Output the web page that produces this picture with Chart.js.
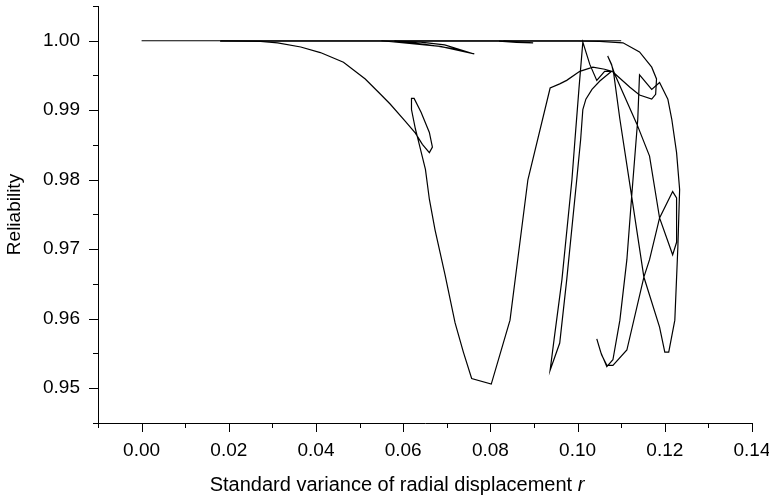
<!DOCTYPE html>
<html>
<head>
<meta charset="utf-8">
<script src="https://cdn.jsdelivr.net/npm/chart.js@4/dist/chart.umd.min.js"></script>
<style>
  html, body { margin: 0; padding: 0; background: #fff; }
  #wrap { width: 769px; height: 497px; }
</style>
</head>
<body>
<div id="wrap"><canvas id="chart" width="769" height="497"></canvas></div>
<script>
// axis ticks (major get labels, minor are only marks)
const xMajorTicks = [0.00, 0.02, 0.04, 0.06, 0.08, 0.10, 0.12, 0.14];
const xMinorTicks = [-0.01, 0.01, 0.03, 0.05, 0.07, 0.09, 0.11, 0.13];
const yMajorTicks = [0.95, 0.96, 0.97, 0.98, 0.99, 1.00];
const yMinorTicks = [0.945, 0.955, 0.965, 0.975, 0.985, 0.995, 1.005];

// flat reliability line
const baseX = [0.000, 0.110];
const baseY = [1.000, 1.000];

// upper arc near r = 0.11
const arcX = [0.018, 0.100, 0.1051, 0.1104, 0.1142, 0.1170, 0.1181, 0.1179, 0.1170, 0.1142, 0.1120, 0.1081];
const arcY = [0.99994, 0.99994, 0.9999, 0.9997, 0.9984, 0.9962, 0.9945, 0.9923, 0.9916, 0.9922, 0.9933, 0.9955];

// small dips just under 1.00
const featherX = [0.055, 0.062, 0.0685, 0.0763, 0.071, 0.065, 0.058, 0.064, 0.0695, 0.0763];
const featherY = [1.0, 0.9996, 0.9992, 0.9981, 0.9989, 0.9995, 0.99995, 0.9998, 0.9994, 0.9981];
const dipX = [0.082, 0.086, 0.0898, 0.086, 0.083];
const dipY = [0.99995, 0.99975, 0.9997, 0.99985, 0.99997];

// main descent, first two valleys and the spike at r = 0.101
const mainX = [0.0181, 0.0273, 0.0312, 0.0365, 0.0410, 0.0463, 0.0513, 0.0548, 0.0570, 0.0605,
  0.0628, 0.0644, 0.0660, 0.0667, 0.0660, 0.0641, 0.0625, 0.0619, 0.0619, 0.0628,
  0.0634, 0.0651, 0.0660, 0.0673, 0.0696, 0.0719, 0.0738, 0.0757, 0.0802, 0.0845,
  0.0886, 0.0937, 0.0959, 0.0975, 0.1005, 0.1035, 0.1062, 0.1078, 0.1051, 0.1033,
  0.1019, 0.1012, 0.1007, 0.0998, 0.0975, 0.0959, 0.0937, 0.0946, 0.0964, 0.0987,
  0.0994, 0.1003, 0.1012, 0.1028, 0.1044, 0.1062, 0.1081];
const mainY = [1.0000, 0.9999, 0.9997, 0.9991, 0.9983, 0.9969, 0.9945, 0.9923, 0.9909, 0.9884,
  0.9867, 0.9851, 0.9839, 0.9847, 0.9868, 0.9897, 0.9917, 0.9917, 0.9901, 0.9873,
  0.9858, 0.9815, 0.9772, 0.9728, 0.9663, 0.9594, 0.9552, 0.9514, 0.9506, 0.9598,
  0.9800, 0.9932, 0.9938, 0.9943, 0.9956, 0.9962, 0.9959, 0.9956, 0.9942, 0.9930,
  0.9916, 0.9901, 0.9858, 0.9800, 0.9656, 0.9565, 0.9526, 0.9570, 0.9656, 0.9800,
  0.9858, 0.9930, 0.9998, 0.9966, 0.9943, 0.9956, 0.9956];

// right part: valleys at r = 0.107 and 0.12 and the small loop
const loopX = [0.1069, 0.1078, 0.1083, 0.1097, 0.1124, 0.1152, 0.1188, 0.1200, 0.1209, 0.1223,
  0.1230, 0.1234, 0.1227, 0.1216, 0.1207, 0.1188, 0.1170, 0.1142, 0.1138, 0.1124,
  0.1113, 0.1097, 0.1081, 0.1067, 0.1053, 0.1044, 0.1055, 0.1067, 0.1081, 0.1113,
  0.1152, 0.1165, 0.1188, 0.1218, 0.1227, 0.1227, 0.1218, 0.1188, 0.1165, 0.1136,
  0.1085, 0.1078, 0.1069];
const loopY = [0.9978, 0.9966, 0.9952, 0.9887, 0.9776, 0.9660, 0.9588, 0.9552, 0.9552, 0.9598,
  0.9704, 0.9786, 0.9839, 0.9887, 0.9916, 0.9940, 0.9930, 0.9951, 0.9887, 0.9776,
  0.9685, 0.9598, 0.9541, 0.9531, 0.9552, 0.9571, 0.9548, 0.9533, 0.9533, 0.9555,
  0.9660, 0.9685, 0.9745, 0.9783, 0.9774, 0.9710, 0.9692, 0.9745, 0.9834, 0.9880,
  0.9952, 0.9965, 0.9978];

const FONT = 'Liberation Sans';
const FSIZE = 19;
const TITLE_SIZE = 20;

function toPoints(xs, ys) {
  return xs.map((x, i) => ({ x: x, y: ys[i] }));
}

function lineSet(xs, ys) {
  return {
    data: toPoints(xs, ys),
    showLine: true,
    borderColor: '#000',
    borderWidth: 1.2,
    pointRadius: 0,
    pointHoverRadius: 0,
    fill: false,
    tension: 0
  };
}

// tick marks (major + minor) and the x title with the italic r
const axisDecor = {
  id: 'axisDecor',
  afterDraw(chart) {
    const ctx = chart.ctx;
    const sx = chart.scales.x, sy = chart.scales.y;
    const area = chart.chartArea;
    ctx.save();
    ctx.strokeStyle = '#000';
    ctx.lineWidth = 1;
    ctx.beginPath();
    const xMark = (v, len) => {
      const p = Math.round(sx.getPixelForValue(v)) + 0.5;
      ctx.moveTo(p, area.bottom);
      ctx.lineTo(p, area.bottom + len);
    };
    const yMark = (v, len) => {
      const p = Math.round(sy.getPixelForValue(v)) + 0.5;
      ctx.moveTo(area.left, p);
      ctx.lineTo(area.left - len, p);
    };
    xMajorTicks.forEach(v => xMark(v, 9));
    xMinorTicks.forEach(v => xMark(v, 5));
    yMajorTicks.forEach(v => yMark(v, 9));
    yMinorTicks.forEach(v => yMark(v, 5));
    ctx.stroke();

    const plain = 'Standard variance of radial displacement ';
    const ital = 'r';
    const normalFont = TITLE_SIZE + 'px "' + FONT + '"';
    const italicFont = 'italic ' + TITLE_SIZE + 'px "' + FONT + '"';
    ctx.fillStyle = '#000';
    ctx.textBaseline = 'alphabetic';
    ctx.textAlign = 'left';
    ctx.font = normalFont;
    const w1 = ctx.measureText(plain).width;
    ctx.font = italicFont;
    const w2 = ctx.measureText(ital).width;
    const cx = (area.left + area.right) / 2 - 28;
    const x0 = cx - (w1 + w2) / 2;
    const base = chart.height - 6;
    ctx.font = normalFont;
    ctx.fillText(plain, x0, base);
    ctx.font = italicFont;
    ctx.fillText(ital, x0 + w1, base);
    ctx.restore();
  }
};

new Chart(document.getElementById('chart'), {
  type: 'scatter',
  data: {
    datasets: [
      lineSet(baseX, baseY),
      lineSet(arcX, arcY),
      lineSet(featherX, featherY),
      lineSet(dipX, dipY),
      lineSet(mainX, mainY),
      lineSet(loopX, loopY)
    ]
  },
  options: {
    responsive: false,
    animation: false,
    devicePixelRatio: 1,
    layout: { padding: { left: 0, right: 17, top: 6, bottom: 0 } },
    plugins: {
      legend: { display: false },
      tooltip: { enabled: false }
    },
    scales: {
      x: {
        type: 'linear',
        min: -0.01,
        max: 0.14,
        grid: { display: false, drawTicks: true, tickLength: 9 },
        border: { display: true, color: '#000', width: 1 },
        ticks: {
          color: '#000',
          padding: 7,
          maxRotation: 0,
          font: { family: FONT, size: FSIZE },
          callback: v => v.toFixed(2)
        },
        afterBuildTicks: scale => { scale.ticks = xMajorTicks.map(v => ({ value: v })); },
        afterFit: scale => {
          scale.height = 74;
          scale.paddingLeft = 0;
          scale.paddingRight = 0;
        }
      },
      y: {
        type: 'linear',
        min: 0.945,
        max: 1.005,
        grid: { display: false, drawTicks: true, tickLength: 9 },
        border: { display: true, color: '#000', width: 1 },
        ticks: {
          color: '#000',
          padding: 9,
          font: { family: FONT, size: FSIZE },
          callback: v => v.toFixed(2)
        },
        title: {
          display: true,
          text: 'Reliability',
          color: '#000',
          font: { family: FONT, size: FSIZE },
          padding: { top: 3, bottom: 0 }
        },
        afterBuildTicks: scale => { scale.ticks = yMajorTicks.map(v => ({ value: v })); },
        afterFit: scale => {
          scale.width = 98;
          scale.paddingTop = 0;
          scale.paddingBottom = 0;
        }
      }
    }
  },
  plugins: [axisDecor]
});
</script>
</body>
</html>
